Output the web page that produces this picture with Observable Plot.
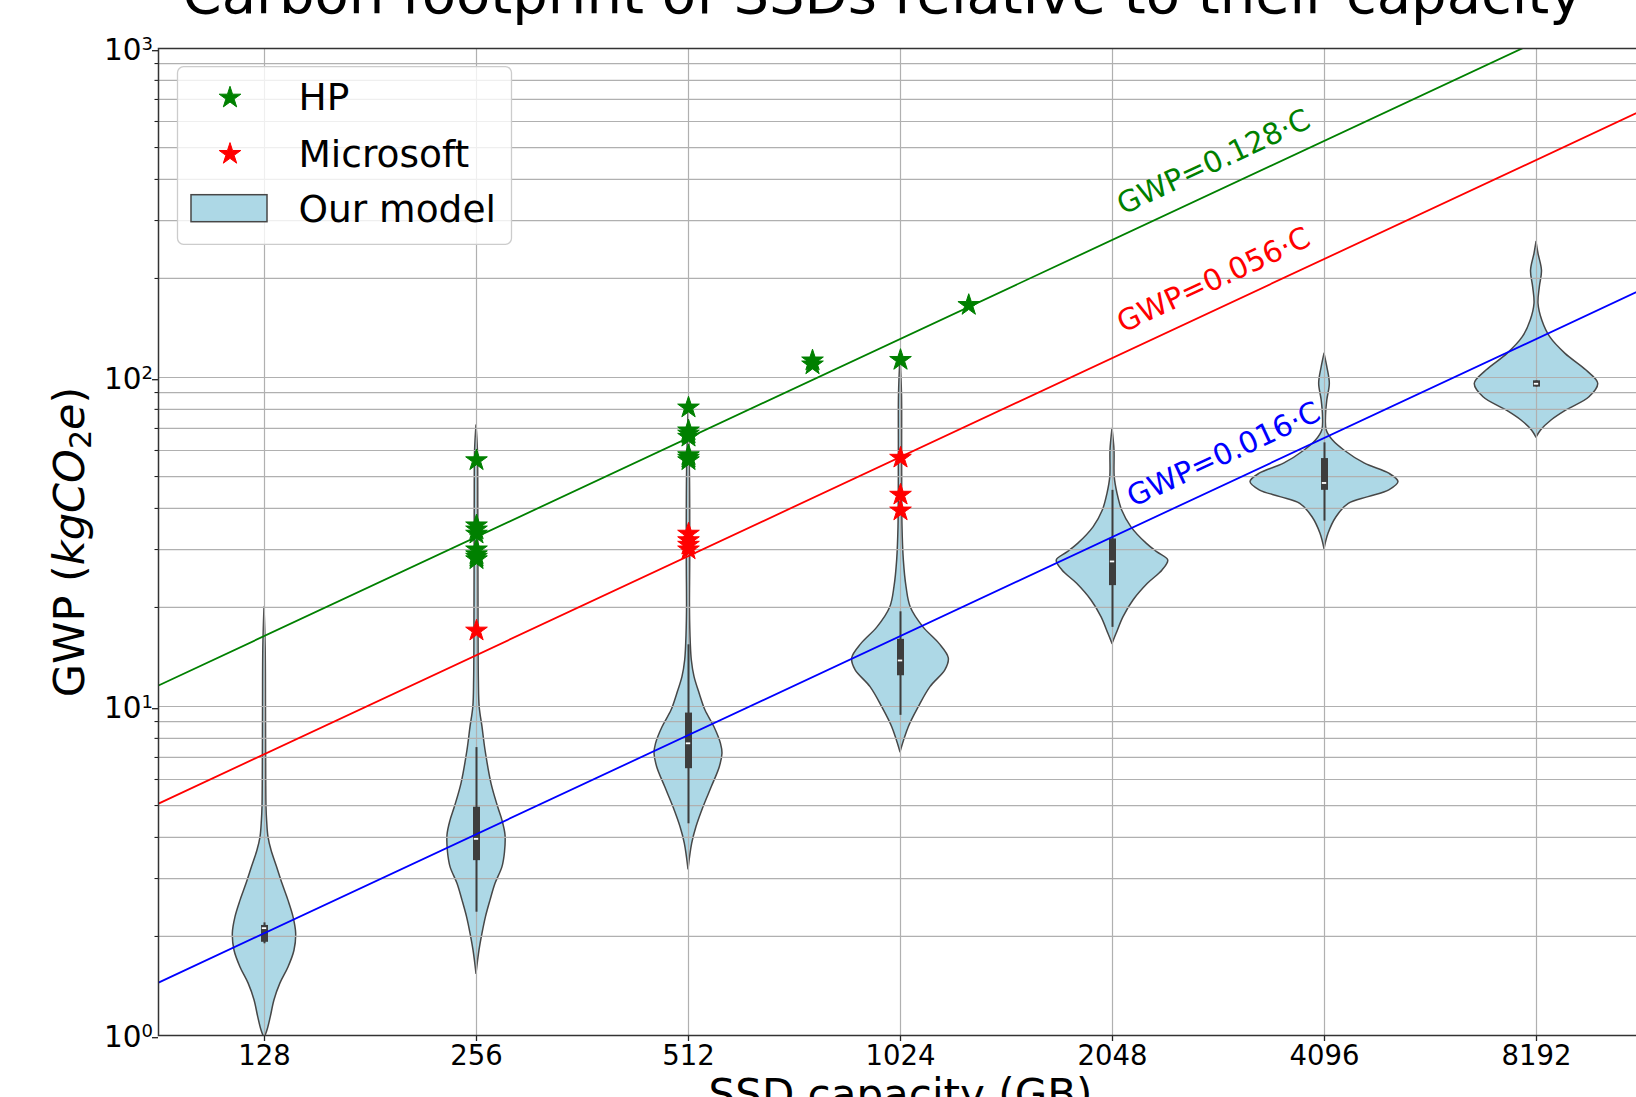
<!DOCTYPE html>
<html>
<head>
<meta charset="utf-8">
<script src="https://cdn.jsdelivr.net/npm/d3@7"></script>
<script src="https://cdn.jsdelivr.net/npm/@observablehq/plot@0.6"></script>
<style>
  html, body { margin: 0; padding: 0; background: #fff; overflow: hidden; }
  #wrap { position: relative; width: 1636px; height: 1097px; overflow: hidden; font-family: "DejaVu Sans", sans-serif; }
  #wrap svg { max-width: none; display: block; }
  #legend { position: absolute; left: 0; top: 0; pointer-events: none; }
</style>
</head>
<body>
<div id="wrap"></div>
<script>
// ---------- data ----------
const title = "Carbon footprint of SSDs relative to their capacity";
const xLabel = "SSD capacity (GB)";
const yLabel = "GWP (kgCO2e)";
const capacities = [128, 256, 512, 1024, 2048, 4096, 8192];
const yMajorTicks = [1, 10, 100, 1000];
const yMinorTicks = [2, 3, 4, 5, 6, 7, 8, 9, 20, 30, 40, 50, 60, 70, 80, 90, 200, 300, 400, 500, 600, 700, 800, 900];

const slopes = [0.128, 0.056, 0.016];
const slopeColors = ["green", "red", "blue"];
const slopeLabelCapacity = [2120, 2120, 2190];

const hpCapacity = [256, 256, 256, 256, 256, 256, 256, 256, 512, 512, 512, 512, 512, 512, 512, 768, 768, 1024, 1280];
const hpGwp = [56, 35.5, 34.5, 33.5, 30, 29, 28.5, 28, 81, 69, 67.5, 66, 58, 57, 56, 112.6, 109.5, 113, 166];
const msCapacity = [256, 512, 512, 512, 512, 1024, 1024, 1024];
const msGwp = [17, 33.5, 32, 31, 30, 57, 44, 39.4];

// violin profiles: [GWP, relative density]
const violin128 = [[0.98,0],[1.035,0.04],[1.137,0.085],[1.28,0.135],[1.44,0.216],[1.61,0.324],[1.81,0.405],[2.04,0.428],[2.29,0.392],[2.57,0.324],[2.89,0.243],[3.25,0.169],[3.65,0.095],[4.0,0.054],[4.5,0.035],[4.94,0.027],[6,0.023],[9.95,0.02],[15,0.016],[20,0]];
const violin256 = [[1.54,0],[1.81,0.04],[2.04,0.081],[2.29,0.128],[2.57,0.189],[2.89,0.257],[3.25,0.351],[3.6,0.385],[4.06,0.392],[4.5,0.351],[4.94,0.293],[5.82,0.203],[7.35,0.122],[8.65,0.081],[9.95,0.043],[12,0.032],[20,0.027],[40,0.024],[60,0.019],[71.5,0]];
const violin512 = [[3.2,0],[3.83,0.05],[4.3,0.108],[4.94,0.203],[5.69,0.315],[6.54,0.423],[7.18,0.459],[7.7,0.439],[8.65,0.351],[9.72,0.23],[10.9,0.153],[12.3,0.081],[13.8,0.045],[15.5,0.031],[19.6,0.02],[27.8,0.023],[50,0.02],[78,0]];
const violin1024 = [[7.26,0],[8.65,0.112],[9.95,0.247],[11.45,0.405],[12.9,0.608],[14.0,0.653],[15.5,0.527],[17.4,0.311],[20.0,0.139],[23.1,0.081],[27.8,0.045],[35.1,0.027],[60,0.022],[89,0.02],[115,0]];
const violin2048 = [[15.5,0],[16.6,0.054],[18.7,0.149],[21.0,0.284],[23.6,0.478],[25.9,0.676],[27.8,0.753],[29.4,0.608],[31.2,0.465],[35.1,0.254],[39.4,0.131],[44.3,0.068],[49.8,0.03],[60,0.027],[69.8,0]];
const violin4096 = [[30.1,0],[33.5,0.054],[37.6,0.162],[41.3,0.328],[43.3,0.595],[45.4,0.876],[48.1,1.0],[51,0.876],[54.7,0.547],[60,0.268],[64.3,0.115],[69,0.03],[75.8,0.02],[85.2,0.038],[95.7,0.072],[107.5,0.038],[118,0]];
const violin8192 = [[65.6,0],[69,0.061],[74,0.203],[79.4,0.405],[87.1,0.716],[95.7,0.834],[105,0.676],[118,0.392],[132.6,0.185],[149,0.078],[167.5,0.027],[188,0.045],[211,0.074],[237.7,0.027],[258,0]];

// inner box statistics per capacity
const whiskerLow  = [1.9, 2.37, 4.4, 9.4, 17.4, 36.6, 93.5];
const quartile1   = [1.92, 3.40, 6.47, 12.4, 23.3, 45.4, 93.5];
const medians     = [2.12, 3.96, 7.73, 13.8, 27.6, 47.8, 95.7];
const quartile3   = [2.16, 4.94, 9.55, 16.0, 32.3, 56.7, 97.7];
const whiskerHigh = [2.2, 7.5, 15.4, 19.4, 45.4, 63.3, 97.7];

// ---------- tables ----------
const violins = [violin128, violin256, violin512, violin1024, violin2048, violin4096, violin8192];
const violinRows = capacities.flatMap((c, i) => violins[i].map(([g, d]) => ({cap: c, gwp: g, dens: d})));
const boxRows = capacities.map((c, i) => ({cap: c, lo: whiskerLow[i], q1: quartile1[i], med: medians[i], q3: quartile3[i], hi: whiskerHigh[i]}));
const hpRows = hpCapacity.map((c, i) => ({cap: c, gwp: hpGwp[i]}));
const msRows = msCapacity.map((c, i) => ({cap: c, gwp: msGwp[i]}));
const xDomain = [2 ** 6.5, 2 ** 13.5];
const halfWidth = 0.349; // in doublings, for density 1
const font = "DejaVu Sans";
const gridStyle = {stroke: "#b0b0b0", strokeOpacity: 1, strokeWidth: 1.2};
const starR = 6.8;

const chart = Plot.plot({
  width: 1700,
  height: 1097,
  marginLeft: 158,
  marginRight: 58,
  marginTop: 48,
  marginBottom: 62,
  style: {fontFamily: font, background: "white", color: "black"},
  x: {type: "log", base: 2, domain: xDomain, label: null},
  y: {type: "log", domain: [1, 1000], label: null},
  marks: [
    Plot.areaX(violinRows, {
      y: "gwp",
      x1: d => d.cap * 2 ** (-d.dens * halfWidth),
      x2: d => d.cap * 2 ** (d.dens * halfWidth),
      z: "cap",
      fill: "#add8e6",
      stroke: "#474747",
      strokeWidth: 1.5,
      curve: "catmull-rom",
      clip: true
    }),
    Plot.gridX(capacities, gridStyle),
    Plot.gridY([...yMajorTicks, ...yMinorTicks], gridStyle),
    Plot.ruleX(boxRows, {x: "cap", y1: "lo", y2: "hi", stroke: "#3d3d3d", strokeWidth: 2}),
    Plot.ruleX(boxRows, {x: "cap", y1: "q1", y2: "q3", stroke: "#3d3d3d", strokeWidth: 7}),
    Plot.ruleY(boxRows, {y: "med", x1: d => d.cap * 2 ** (-2.2 / 212), x2: d => d.cap * 2 ** (2.2 / 212), stroke: "white", strokeWidth: 1.8}),
    ...slopes.map((k, i) => Plot.line(xDomain, {x: d => d, y: d => k * d, stroke: slopeColors[i], strokeWidth: 1.8, clip: true})),
    ...slopes.map((k, i) => Plot.text([slopeLabelCapacity[i]], {
      x: d => d, y: d => k * d * 1.15,
      text: () => `GWP=${k}·C`,
      rotate: -25.04, textAnchor: "start", lineAnchor: "bottom",
      fill: slopeColors[i], fontSize: 29.5
    })),
    Plot.dot(hpRows, {x: "cap", y: "gwp", symbol: "star", r: starR, fill: "green", stroke: "green", strokeWidth: 1}),
    Plot.dot(msRows, {x: "cap", y: "gwp", symbol: "star", r: starR, fill: "red", stroke: "red", strokeWidth: 1}),
    Plot.axisX(capacities, {tickSize: 6, tickPadding: 4, fontSize: 27.5, tickFormat: d => String(d), stroke: "#222", strokeWidth: 1.3, label: null}),
    Plot.axisY(yMajorTicks, {tickSize: 6, tickPadding: 11, fontSize: 29.5, tickFormat: () => "10", dy: 2.2, stroke: "#222", strokeWidth: 1.3, label: null}),
    Plot.axisY(yMinorTicks, {tickSize: 3.5, fill: "none", stroke: "#222", strokeWidth: 1.1, label: null}),
    Plot.text(yMajorTicks, {y: d => d, frameAnchor: "left", text: d => String(Math.round(Math.log10(d))), dx: -17, dy: 1.3, textAnchor: "start", lineAnchor: "bottom", fontSize: 18}),
    Plot.frame({stroke: "#333", strokeWidth: 1.5}),
    Plot.text([title], {text: d => d, frameAnchor: "top", textAnchor: "middle", dx: -18, dy: -36, lineAnchor: "bottom", fontSize: 56}),
    Plot.text([xLabel], {text: d => d, frameAnchor: "bottom", textAnchor: "middle", dy: 73.6, lineAnchor: "bottom", fontSize: 42}),
    Plot.text([yLabel], {text: d => d, frameAnchor: "left", textAnchor: "middle", dx: -88, rotate: -90, lineAnchor: "middle", fontSize: 43})
  ]
});

document.getElementById("wrap").appendChild(chart);

// rich y label: GWP (kgCO₂e) with italic math part
const yl = d3.select(chart).selectAll("text").filter(function () { return this.textContent === yLabel; });
yl.text(null);
yl.append("tspan").text("GWP (");
yl.append("tspan").attr("font-style", "italic").text("kgCO");
yl.append("tspan").attr("font-size", "0.7em").attr("dy", "0.22em").text("2");
yl.append("tspan").attr("font-style", "italic").attr("dy", "-0.154em").text("e");
yl.append("tspan").text(")");

// legend overlay
const legendItems = [
  {label: "HP", color: "green", kind: "star"},
  {label: "Microsoft", color: "red", kind: "star"},
  {label: "Our model", color: "#add8e6", kind: "patch"}
];
const lg = d3.select("#wrap").append("svg").attr("id", "legend").attr("width", 600).attr("height", 300)
  .style("font-family", font);
lg.append("rect").attr("x", 177.5).attr("y", 66.7).attr("width", 334).attr("height", 177.6).attr("rx", 6)
  .attr("fill", "white").attr("fill-opacity", 0.8).attr("stroke", "#cccccc").attr("stroke-width", 1.3);
const starPath = d3.symbol(d3.symbolStar, Math.PI * starR * starR)();
const rowBase = [110, 166.7, 221.7];
const starY = [97.7, 154];
legendItems.forEach((it, i) => {
  if (it.kind === "star") {
    lg.append("path").attr("d", starPath).attr("transform", `translate(230,${starY[i]})`)
      .attr("fill", it.color).attr("stroke", it.color).attr("stroke-width", 1);
  } else {
    lg.append("rect").attr("x", 191).attr("y", 194.7).attr("width", 76).attr("height", 27)
      .attr("fill", it.color).attr("stroke", "#474747").attr("stroke-width", 1.5);
  }
  lg.append("text").attr("x", 298.5).attr("y", rowBase[i]).attr("font-size", 37.5).attr("fill", "black").text(it.label);
});
</script>
</body>
</html>
